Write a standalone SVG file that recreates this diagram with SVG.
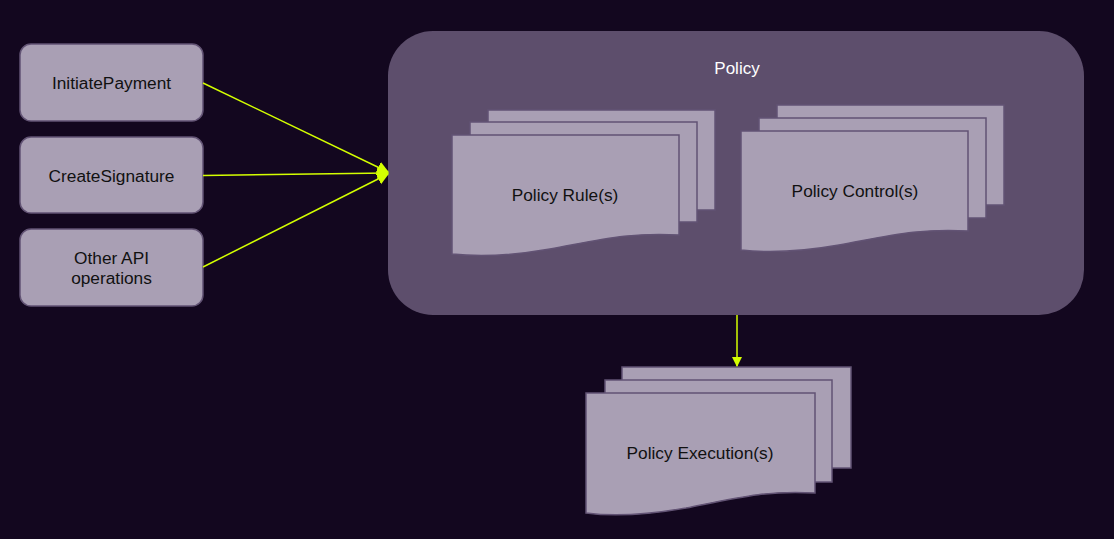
<svg xmlns="http://www.w3.org/2000/svg" width="1114" height="539" viewBox="0 0 1114 539">
<defs>
<style>
.bg{fill:#13071f}
.box{fill:#a99fb4;stroke:#625374;stroke-width:1.5}
.sheet{fill:#a99fb4;stroke:#625374;stroke-width:1.5}
.cont{fill:#5d4e6c}
.lbl{font-family:"Liberation Sans",Arial,sans-serif;font-size:17.3px;fill:#111;text-anchor:middle}
.clbl{font-family:"Liberation Sans",Arial,sans-serif;font-size:17px;fill:#ffffff;text-anchor:middle}
.edge{stroke:#d4ff00;stroke-width:1.5;fill:none}
</style>
<marker id="ah" viewBox="0 0 10 10" refX="9" refY="5" markerWidth="11" markerHeight="10" markerUnits="userSpaceOnUse" orient="auto">
<path d="M0,0 L10,5 L0,10 Z" fill="#d4ff00"/>
</marker>
<marker id="ahBig" viewBox="0 0 10 10" refX="9" refY="5" markerWidth="12" markerHeight="13" markerUnits="userSpaceOnUse" orient="auto">
<path d="M0,0 L10,5 L0,10 Z" fill="#d4ff00"/>
</marker>
</defs>
<rect class="bg" x="0" y="0" width="1114" height="539"/>

<g id="policy">
<rect class="cont" x="388" y="31" width="696" height="284" rx="45" ry="45"/>
<text class="clbl" x="737" y="74">Policy</text>
</g>

<g id="initiate-payment">
<rect class="box" x="20" y="44" width="183" height="77" rx="11"/>
<text class="lbl" x="111.5" y="89">InitiatePayment</text>
</g>
<g id="create-signature">
<rect class="box" x="20" y="137" width="183" height="76" rx="11"/>
<text class="lbl" x="111.5" y="182">CreateSignature</text>
</g>
<g id="other-api">
<rect class="box" x="20" y="229" width="183" height="77" rx="11"/>
<text class="lbl" x="111.5" y="264">Other API</text>
<text class="lbl" x="111.5" y="284">operations</text>
</g>

<g id="policy-rules">
<rect class="sheet" x="488" y="110" width="227" height="100"/>
<rect class="sheet" x="470" y="122" width="227" height="100"/>
<path class="sheet" d="M452,135 L679,135 L679,235 C630,232 600,240 550,249 C510,256 480,257 452,254 Z"/>
<text class="lbl" x="565" y="201">Policy Rule(s)</text>
</g>

<g id="policy-controls">
<rect class="sheet" x="777" y="105" width="227" height="100"/>
<rect class="sheet" x="759" y="118" width="227" height="100"/>
<path class="sheet" d="M741,131 L968,131 L968,231 C919,228 889,236 839,245 C799,252 769,253 741,250 Z"/>
<text class="lbl" x="855" y="197">Policy Control(s)</text>
</g>

<g id="policy-executions">
<rect class="sheet" x="622" y="367" width="229" height="101"/>
<rect class="sheet" x="605" y="380" width="227" height="102"/>
<path class="sheet" d="M586,393 L815,393 L815,493 C766,490 736,498 686,508 C646,515 616,517 586,513 Z"/>
<text class="lbl" x="700" y="459">Policy Execution(s)</text>
</g>

<g id="connectors">
<line class="edge" x1="203" y1="83" x2="388" y2="172" marker-end="url(#ahBig)"/>
<line class="edge" x1="203" y1="175.5" x2="388" y2="173" marker-end="url(#ahBig)"/>
<line class="edge" x1="203" y1="267" x2="388" y2="174" marker-end="url(#ahBig)"/>
<line class="edge" x1="737" y1="315" x2="737" y2="366" marker-end="url(#ah)"/>
</g>
</svg>
